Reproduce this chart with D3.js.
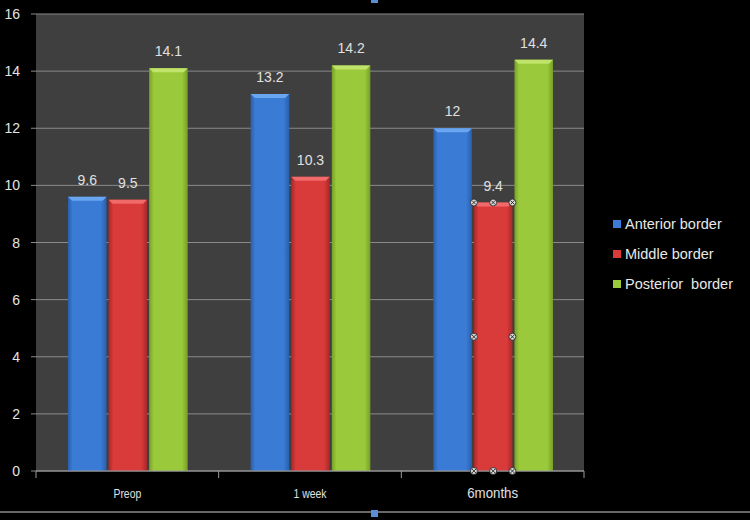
<!DOCTYPE html>
<html>
<head>
<meta charset="utf-8">
<script src="https://cdn.jsdelivr.net/npm/d3@7"></script>
<style>
body { margin: 0; background: #000; }
svg text { font-family: "Liberation Sans", Arial, sans-serif; white-space: pre; }
</style>
</head>
<body>
<script>
var width = 750;
var height = 520;

var categories = ["Preop", "1 week", "6months"];
var seriesNames = ["Anterior border", "Middle border", "Posterior  border"];
var anterior = [9.6, 13.2, 12];
var middle = [9.5, 10.3, 9.4];
var posterior = [14.1, 14.2, 14.4];
var yTicks = [0, 2, 4, 6, 8, 10, 12, 14, 16];

var colors = [
    {base: "#3a7bd5", light: "#6aa6f0", dark: "#2a5fae"},
    {base: "#d93a3a", light: "#f06a6a", dark: "#a82828"},
    {base: "#9bc93c", light: "#c0e36a", dark: "#76a026"}
];

var series = [anterior, middle, posterior];

var margin = {left: 36, right: 166, top: 14, bottom: 49};

var svg = d3.select("body")
    .append("svg")
    .attr("width", width)
    .attr("height", height);

svg.append("rect").attr("width", width).attr("height", height).attr("fill", "#000");

var defs = svg.append("defs");
colors.forEach(function(c, i) {
    var g = defs.append("linearGradient").attr("id", "grad" + i)
        .attr("x1", "0").attr("x2", "1").attr("y1", "0").attr("y2", "0");
    g.append("stop").attr("offset", "0").attr("stop-color", c.dark);
    g.append("stop").attr("offset", "0.12").attr("stop-color", c.base);
    g.append("stop").attr("offset", "0.85").attr("stop-color", c.base);
    g.append("stop").attr("offset", "1").attr("stop-color", c.dark);
});

var x0 = d3.scaleBand()
    .domain(categories)
    .range([margin.left, width - margin.right])
    .paddingInner(0)
    .paddingOuter(0);

var x1 = d3.scaleBand()
    .domain([0, 1, 2])
    .range([32, x0.bandwidth() - 31])
    .paddingInner(0.05);

var y = d3.scaleLinear()
    .domain([0, 16])
    .range([height - margin.bottom, margin.top]);

// plot background
svg.append("rect")
    .attr("x", margin.left)
    .attr("y", margin.top)
    .attr("width", width - margin.right - margin.left)
    .attr("height", y(0) - margin.top)
    .attr("fill", "#3f3f3f");

// grid lines
svg.append("g")
    .selectAll("line")
    .data(yTicks)
    .join("line")
    .attr("x1", margin.left)
    .attr("x2", width - margin.right)
    .attr("y1", d => y(d))
    .attr("y2", d => y(d))
    .attr("stroke", "#8a8a8a")
    .attr("stroke-width", 1);

// y axis labels
svg.append("g")
    .selectAll("text")
    .data(yTicks)
    .join("text")
    .attr("x", 20)
    .attr("y", d => y(d) + 5)
    .attr("text-anchor", "end")
    .attr("fill", "#e4e4e4")
    .attr("font-size", 14)
    .text(d => d);

// y axis small ticks
svg.append("g")
    .selectAll("line")
    .data(yTicks)
    .join("line")
    .attr("x1", margin.left - 5)
    .attr("x2", margin.left)
    .attr("y1", d => y(d))
    .attr("y2", d => y(d))
    .attr("stroke", "#8a8a8a");

// bars
var groups = svg.append("g")
    .selectAll("g")
    .data(categories)
    .join("g")
    .attr("transform", d => "translate(" + x0(d) + ",0)");

groups.each(function(cat, ci) {
    var g = d3.select(this);
    series.forEach(function(s, si) {
        var v = s[ci];
        var bx = x1(si);
        var bw = x1.bandwidth();
        g.append("rect")
            .attr("x", bx)
            .attr("y", y(v))
            .attr("width", bw)
            .attr("height", y(0) - y(v))
            .attr("fill", "url(#grad" + si + ")");
        // bevel top
        g.append("path")
            .attr("d", "M" + bx + "," + y(v) + " L" + (bx + bw) + "," + y(v) +
                " L" + (bx + bw - 4) + "," + (y(v) + 4) + " L" + (bx + 4) + "," + (y(v) + 4) + "Z")
            .attr("fill", colors[si].light);
        g.append("text")
            .attr("x", bx + bw / 2)
            .attr("y", y(v) - 12)
            .attr("text-anchor", "middle")
            .attr("fill", "#e0e0e0")
            .attr("font-size", 14)
            .text(v);
    });
});

// x axis line and ticks
svg.append("line")
    .attr("x1", margin.left)
    .attr("x2", width - margin.right)
    .attr("y1", y(0))
    .attr("y2", y(0))
    .attr("stroke", "#9a9a9a");

var xTickPos = categories.map(c => x0(c)).concat([width - margin.right]);
svg.append("g")
    .selectAll("line")
    .data(xTickPos)
    .join("line")
    .attr("x1", d => d)
    .attr("x2", d => d)
    .attr("y1", y(0))
    .attr("y2", y(0) + 7)
    .attr("stroke", "#9a9a9a");

var xLabelSizes = [13, 13, 14];
svg.append("g")
    .selectAll("text")
    .data(categories)
    .join("text")
    .attr("x", d => x0(d) + x0.bandwidth() / 2)
    .attr("y", 498)
    .attr("text-anchor", "middle")
    .attr("fill", "#e0e0e0")
    .attr("font-size", (d, i) => xLabelSizes[i])
    .attr("transform", (d, i) => {
        var cx = x0(d) + x0.bandwidth() / 2;
        return "translate(" + cx + ",0) scale(" + (i == 2 ? 0.95 : 0.8) + ",1) translate(" + (-cx) + ",0)";
    })
    .text(d => d);

// legend
var legend = svg.append("g")
    .selectAll("g")
    .data(seriesNames)
    .join("g")
    .attr("transform", (d, i) => "translate(613," + (224 + i * 30) + ")");

legend.append("rect")
    .attr("x", 0)
    .attr("y", -4)
    .attr("width", 8)
    .attr("height", 8)
    .attr("fill", (d, i) => colors[i].base);

legend.append("text")
    .attr("x", 12)
    .attr("y", 5)
    .attr("fill", "#e8e8e8")
    .attr("font-size", 14.5)
    .text(d => d);

// selection handles (from the screenshot)
svg.append("line")
    .attr("x1", 0).attr("x2", width)
    .attr("y1", 512).attr("y2", 512)
    .attr("stroke", "#cfcfcf").attr("stroke-width", 1);
svg.append("rect").attr("x", 371).attr("y", -3).attr("width", 7).attr("height", 6).attr("fill", "#5a8fd8");
svg.append("rect").attr("x", 371).attr("y", 510).attr("width", 7).attr("height", 7).attr("fill", "#5a8fd8");

var selX = x0(categories[2]) + x1(1);
var selW = x1.bandwidth();
var selTop = y(middle[2]);
var selBot = y(0);
var handles = [
    [selX, selTop], [selX + selW / 2, selTop], [selX + selW, selTop],
    [selX, (selTop + selBot) / 2], [selX + selW, (selTop + selBot) / 2],
    [selX, selBot], [selX + selW / 2, selBot], [selX + selW, selBot]
];
var h = svg.append("g")
    .selectAll("g")
    .data(handles)
    .join("g")
    .attr("transform", d => "translate(" + d[0] + "," + d[1] + ")");
h.append("circle").attr("r", 3.5).attr("fill", "#d8d8d8").attr("stroke", "#222").attr("stroke-width", 0.8);
h.append("path").attr("d", "M-2,-2L2,2M-2,2L2,-2").attr("stroke", "#222").attr("stroke-width", 0.9);
</script>
</body>
</html>
